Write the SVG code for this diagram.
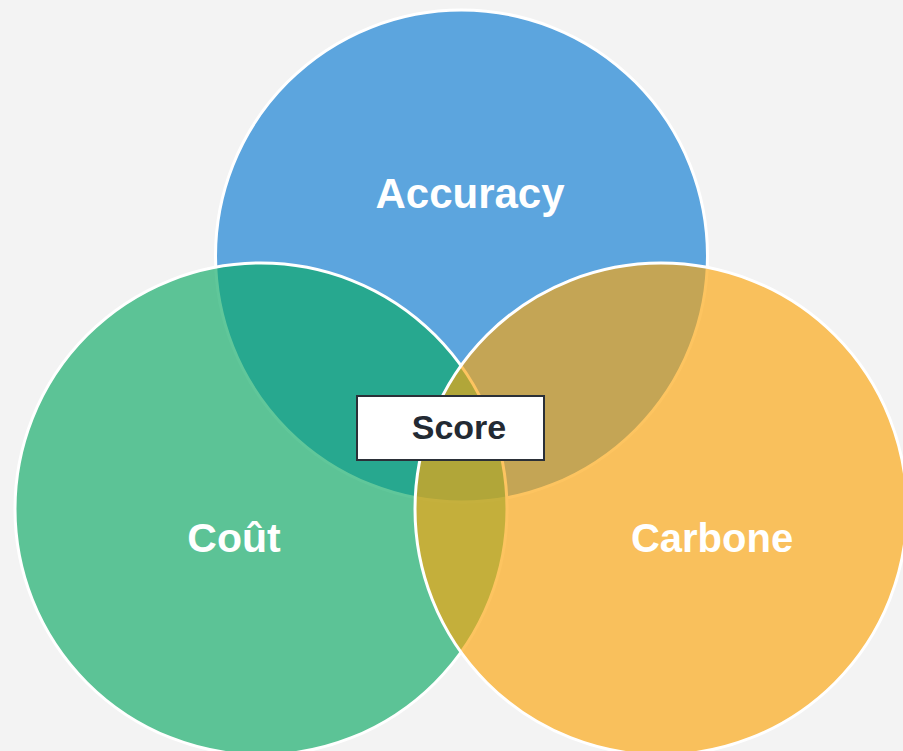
<svg xmlns="http://www.w3.org/2000/svg" width="903" height="751" viewBox="0 0 903 751">
<style>
.set{stroke:#FFFFFF;stroke-width:3;fill-opacity:0.65}
.lbl{font-family:"Liberation Sans",Arial,sans-serif;font-weight:bold;fill:#FFFFFF;text-anchor:middle}
.score{font-family:"Liberation Sans",Arial,sans-serif;font-weight:bold;fill:#232A33;text-anchor:middle;font-size:34px}
</style>
<rect x="0" y="0" width="903" height="751" fill="#F3F3F3"/>
<g id="accuracy">
<circle class="set" cx="461.5" cy="256" r="246" fill="#0B7BD3"/>
</g>
<g id="cout">
<circle class="set" cx="261" cy="509" r="246" fill="#0BA964"/>
</g>
<g id="carbone">
<circle class="set" cx="661" cy="509" r="246" fill="#FCA50B"/>
</g>
<g id="labels">
<text class="lbl" x="470" y="208" font-size="42">Accuracy</text>
<text class="lbl" x="234" y="552" font-size="41">Coût</text>
<text class="lbl" x="712" y="552" font-size="40">Carbone</text>
</g>
<g id="score">
<rect x="357" y="396" width="187" height="64" fill="#FFFFFF" stroke="#2B3038" stroke-width="2"/>
<text class="score" x="459" y="439">Score</text>
</g>
<g id="connectors"></g>
</svg>
